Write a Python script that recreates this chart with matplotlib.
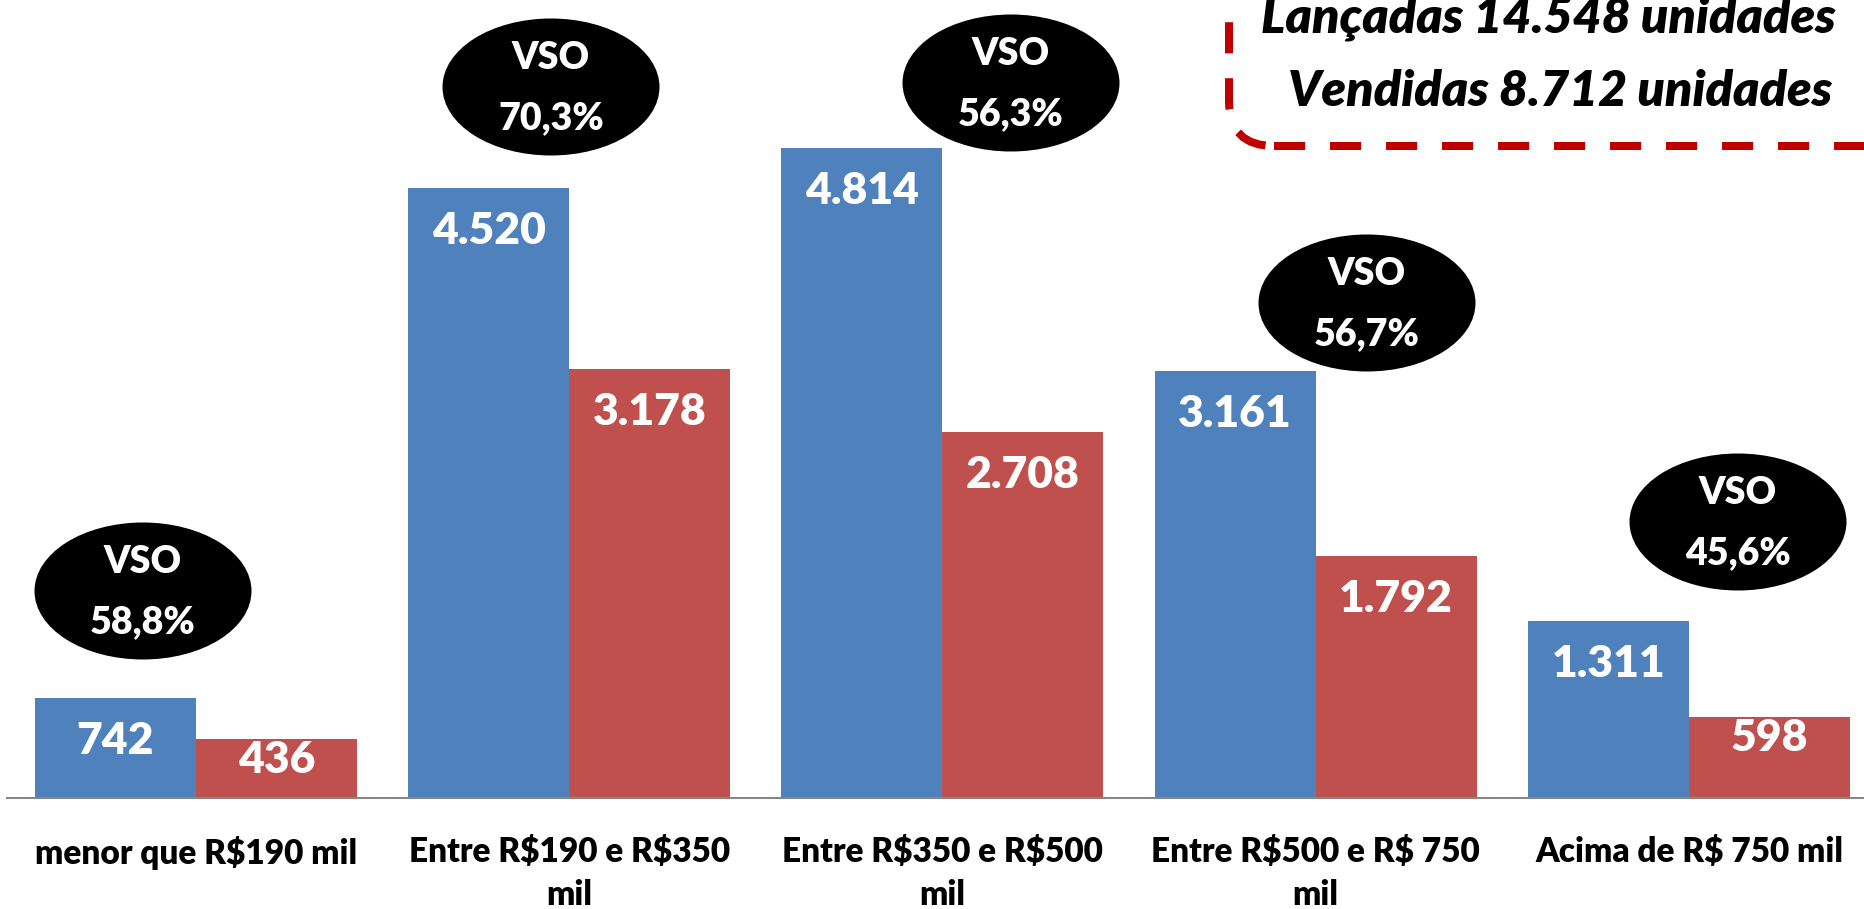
import matplotlib
matplotlib.use("Agg")
import matplotlib.pyplot as plt
from matplotlib.patches import Ellipse, FancyBboxPatch
from matplotlib.transforms import IdentityTransform

plt.rcParams['font.family'] = ['Lato', 'DejaVu Sans']
plt.rcParams['text.parse_math'] = False

categories = ['menor que R$190 mil', 'Entre R$190 e R$350\nmil',
              'Entre R$350 e R$500\nmil', 'Entre R$500 e R$ 750\nmil',
              'Acima de R$ 750 mil']
lancadas = [742, 4520, 4814, 3161, 1311]
vendidas = [436, 3178, 2708, 1792, 598]
vso = ['58,8%', '70,3%', '56,3%', '56,7%', '45,6%']
total_lancadas = '14.548'
total_vendidas = '8.712'

W, H, DPI = 1864, 909, 100
BLUE = '#4F81BD'
RED = '#C0504D'
WEIGHT = 'heavy'


def fmt(v):
    return f'{v:,}'.replace(',', '.')


fig = plt.figure(figsize=(W / DPI, H / DPI), dpi=DPI)
axis_y = 798      # pixel row of the baseline (from top)
px_per_unit = 0.135
ax = fig.add_axes([7 / W, (H - axis_y) / H, 1 - 7 / W, axis_y / H])
ax.set_xlim(-0.506, 4.469)
ax.set_ylim(0, axis_y / px_per_unit)

x = list(range(len(categories)))
bw = 0.4313
ax.bar([i - bw / 2 for i in x], lancadas, bw, color=BLUE, linewidth=0)
ax.bar([i + bw / 2 for i in x], vendidas, bw, color=RED, linewidth=0)

for vals, sign in ((lancadas, -1), (vendidas, 1)):
    for i, v in enumerate(vals):
        off = 43 if v * px_per_unit >= 90 else 21
        ax.annotate(fmt(v), (i + sign * bw / 2, v), xytext=(0, -off * 72 / DPI),
                    textcoords='offset points', ha='center', va='center',
                    color='white', fontsize=32, fontweight=WEIGHT)

for s in ['top', 'right', 'left']:
    ax.spines[s].set_visible(False)
ax.spines['bottom'].set_color('#868686')
ax.spines['bottom'].set_linewidth(1.5)
ax.set_yticks([])
ax.set_xticks(x)
ax.set_xticklabels(categories, fontsize=24, fontweight=WEIGHT, linespacing=1.45)
ax.tick_params(axis='x', length=0, pad=27)

# VSO ellipses (pixel centres, measured from the top)
ell_pos = [(143, 591), (551, 87), (1011, 83), (1367, 303), (1738, 522)]
for (cx, cy), txt in zip(ell_pos, vso):
    e = Ellipse((cx, H - cy), 217, 137, transform=IdentityTransform(),
                facecolor='black', edgecolor='none')
    fig.add_artist(e)
    fig.text(cx / W, (H - cy + 29) / H, 'VSO', color='white', fontsize=27,
             fontweight=WEIGHT, ha='center', va='center')
    fig.text(cx / W, (H - cy - 31) / H, txt, color='white', fontsize=27,
             fontweight=WEIGHT, ha='center', va='center')

# dashed summary box, partly off the canvas
box = FancyBboxPatch((1229, H - 146), 700, 250,
                     boxstyle='round,pad=0,rounding_size=45',
                     transform=IdentityTransform(), facecolor='white',
                     edgecolor='#C00000', linewidth=8 * 72 / DPI,
                     linestyle=(0, (3.9, 3.1)))
fig.add_artist(box)
fig.text(1548 / W, (H - 18) / H, f'Lançadas {total_lancadas} unidades',
         fontsize=36, fontweight=WEIGHT, style='italic', ha='center', va='center')
fig.text(1560 / W, (H - 92) / H, f'Vendidas {total_vendidas} unidades',
         fontsize=36, fontweight=WEIGHT, style='italic', ha='center', va='center')

fig.savefig('out.png', dpi=DPI)
